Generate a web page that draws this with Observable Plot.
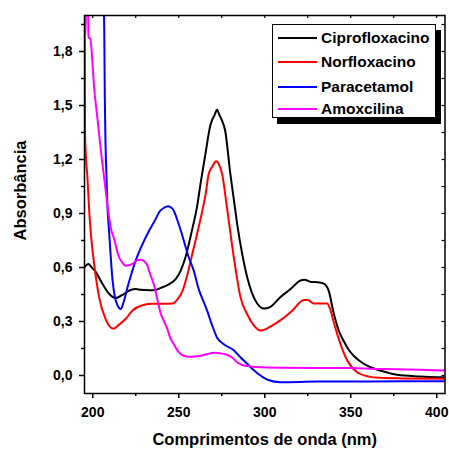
<!DOCTYPE html>
<html><head><meta charset="utf-8">
<script src="https://cdn.jsdelivr.net/npm/d3@7"></script>
<script src="https://cdn.jsdelivr.net/npm/@observablehq/plot@0.6"></script>
<style>
body{margin:0;background:#fff;}
#wrap{position:relative;width:449px;height:450px;font-family:"Liberation Sans",Arial,sans-serif;}
#legend{position:absolute;left:272px;top:24px;width:162px;height:92px;border:1px solid #000;background:#fff;box-shadow:5px 6px 0 #000;}
.row{position:absolute;left:0;height:20px;display:flex;align-items:center;font-weight:bold;font-size:15.5px;color:#000;white-space:nowrap}
.sw{width:39px;height:2px;margin-left:5px;margin-right:4px}
</style></head>
<body><div id="wrap"></div>
<script>
const series = ["Ciprofloxacino","Norfloxacino","Paracetamol","Amoxcilina"];
const colors = ["#000000","#ff0000","#0000ff","#ff00ff"];

const ciproX = [195.2,196,197.5,199,201.8,205.6,209.5,213.3,218.2,222,225,228,232.8,236,240.5,244,248.3,251,254,258,260.5,262.9,265.5,268.4,269.4,270.5,272.3,273.5,275,277,280,282,284,287,289.8,292.5,295.6,299.5,303,309,315,320.8,323,327,330.5,334.3,337.2,340,343,346,349,351.7,356,361.5,368,377,390,404.8];
const ciproY = [0.6,0.61,0.62,0.605,0.574,0.51,0.454,0.43,0.454,0.475,0.48,0.476,0.474,0.475,0.49,0.505,0.537,0.58,0.66,0.82,0.93,1.08,1.23,1.39,1.42,1.44,1.476,1.45,1.42,1.36,1.12,0.98,0.84,0.67,0.546,0.46,0.4,0.372,0.38,0.435,0.48,0.528,0.532,0.52,0.518,0.51,0.47,0.35,0.25,0.19,0.14,0.11,0.075,0.046,0.025,0.004,-0.005,-0.01];

const norX = [195.3,195.5,196,196.9,197.9,198.8,200.8,203.7,207.6,211.9,215,219.2,223,228.9,235,241,246.3,249,252.2,255,258,261,263.8,265.5,267.4,269.5,271.7,273.5,275.2,278,282,285.9,289.8,293.5,297.5,303,309,316,322.7,325,328.5,332,336.3,338,340,344,348,353.7,360,367,380,404.8];
const norY = [2.1,1.35,1.22,1.1,0.92,0.8,0.62,0.435,0.31,0.26,0.28,0.315,0.36,0.39,0.398,0.398,0.4,0.42,0.47,0.56,0.68,0.8,0.92,1.0,1.12,1.16,1.19,1.17,1.12,0.935,0.657,0.435,0.34,0.28,0.25,0.27,0.306,0.36,0.42,0.42,0.4,0.4,0.4,0.37,0.3,0.176,0.083,0.018,-0.005,-0.013,-0.016,-0.018];

const paraX = [206.4,206.7,207,207.4,208,208.5,209.5,211.5,213,214.4,216.3,218,220.2,222,225,228,232.8,235.5,239.4,241.5,243.8,246,247,250,252.9,255.8,258.7,261.6,264,266.5,269,272.3,276,282,286,289.8,293,297.5,302,309,330,360,404.8];
const paraY = [2.1,1.9,1.55,1.3,1.1,0.95,0.8,0.53,0.43,0.39,0.37,0.41,0.49,0.55,0.64,0.71,0.806,0.85,0.917,0.932,0.94,0.93,0.917,0.84,0.75,0.657,0.583,0.48,0.42,0.36,0.29,0.21,0.175,0.14,0.1,0.065,0.035,0.0,-0.025,-0.037,-0.034,-0.033,-0.032];

const amoxX = [195.2,195.5,195.8,196.1,197.2,197.5,198.6,200,200.8,202.7,203.5,204.7,206.6,208.5,209.5,210.5,212.4,214.2,215.3,217,219.2,221,223.1,226,228,230,231.8,233.5,235.7,237.4,239.5,241.5,243.3,245,247,250,252.9,256,258.7,263,267,270.5,274,278,281,283.9,287,289.8,295,309,330,348,370,390,404.8];
const amoxY = [2.1,1.89,1.89,2.1,2.1,1.88,1.87,1.71,1.6,1.43,1.36,1.25,1.1,0.95,0.88,0.82,0.76,0.69,0.657,0.63,0.61,0.612,0.62,0.64,0.643,0.635,0.61,0.56,0.5,0.43,0.345,0.3,0.26,0.21,0.176,0.13,0.11,0.104,0.105,0.11,0.12,0.126,0.124,0.115,0.1,0.074,0.058,0.052,0.047,0.043,0.042,0.041,0.036,0.032,0.028];

const xMajor = [200,250,300,350,400];
const xMinor = [225,275,325,375];
const yMajor = [0,0.3,0.6,0.9,1.2,1.5,1.8];
const yMinor = [0.15,0.45,0.75,1.05,1.35,1.65,1.95];
const xAll = [200,225,250,275,300,325,350,375,400];
const yAll = [0,0.15,0.3,0.45,0.6,0.75,0.9,1.05,1.2,1.35,1.5,1.65,1.8,1.95];

const xs = [ciproX, norX, paraX, amoxX];
const ys = [ciproY, norY, paraY, amoxY];
const rows = [];
series.forEach((s, i) => xs[i].forEach((x, j) => rows.push({s, x, y: ys[i][j]})));

const W = 449, H = 450, mL = 84, mR = 4.5, mT = 15, mB = 57;
const innerW = W - mL - mR, innerH = H - mT - mB;
const fmt = d => d.toFixed(1).replace(".", ",");

const chart = Plot.plot({
  width: W, height: H,
  marginLeft: mL, marginRight: mR, marginTop: mT, marginBottom: mB,
  style: {fontFamily: "'Liberation Sans', Arial, sans-serif", fontSize: "14px", fontWeight: "bold", color: "#000", background: "#fff"},
  x: {domain: [195.2, 404.8]},
  y: {domain: [-0.1, 2.0]},
  color: {domain: series, range: colors},
  marks: [
    Plot.line(rows, {x: "x", y: "y", z: "s", stroke: "s", strokeWidth: 2, curve: "monotone-x", clip: true}),
    Plot.axisX({ticks: xMajor, tickSize: 5, tickPadding: 9, tickFormat: d => String(d), label: null, strokeWidth: 1.5}),
    Plot.axisX({ticks: xMinor, tickSize: 3, tickFormat: () => "", label: null, strokeWidth: 1.5}),
    Plot.axisY({ticks: yMajor, tickSize: 5, tickPadding: 7, tickFormat: fmt, label: null, strokeWidth: 1.5}),
    Plot.axisY({ticks: yMinor, tickSize: 3, tickFormat: () => "", label: null, strokeWidth: 1.5}),
    Plot.tickX(xAll, {x: d => d, insetBottom: innerH - 3, stroke: "#000", strokeWidth: 1.2}),
    Plot.tickY(yAll, {y: d => d, insetLeft: innerW - 3, stroke: "#000", strokeWidth: 1.2}),
    Plot.frame({stroke: "#000", strokeWidth: 1.5}),
    Plot.text(["Comprimentos de onda (nm)"], {frameAnchor: "bottom", dy: 51, fontSize: 16.5, fontWeight: "bold", fill: "#000"}),
    Plot.text(["Absorbância"], {frameAnchor: "left", textAnchor: "middle", dx: -64, dy: -14, rotate: -90, fontSize: 16.5, fontWeight: "bold", fill: "#000"})
  ]
});

const wrap = document.getElementById("wrap");
wrap.appendChild(chart);

const legend = document.createElement("div");
legend.id = "legend";
const centers = [13.3, 37.3, 61.7, 84.3];
series.forEach((s, i) => {
  const r = document.createElement("div");
  r.className = "row";
  r.style.top = (centers[i] - 10) + "px";
  const sw = document.createElement("div");
  sw.className = "sw";
  sw.style.background = colors[i];
  const t = document.createElement("span");
  t.textContent = s;
  r.appendChild(sw); r.appendChild(t);
  legend.appendChild(r);
});
wrap.appendChild(legend);
</script>
</body></html>
